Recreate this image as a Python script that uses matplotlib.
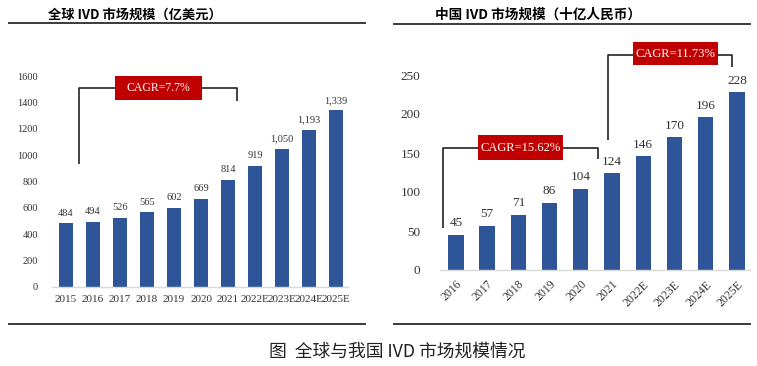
import matplotlib
matplotlib.use("Agg")
import matplotlib.pyplot as plt
from matplotlib.patches import Rectangle

# ---- data ------------------------------------------------------------------
global_years = ["2015", "2016", "2017", "2018", "2019", "2020", "2021",
                "2022E", "2023E", "2024E", "2025E"]
global_vals = [484, 494, 526, 565, 602, 669, 814, 919, 1050, 1193, 1339]
global_labels = ["484", "494", "526", "565", "602", "669", "814", "919",
                 "1,050", "1,193", "1,339"]
global_ticks = [0, 200, 400, 600, 800, 1000, 1200, 1400, 1600]

china_years = ["2016", "2017", "2018", "2019", "2020", "2021",
               "2022E", "2023E", "2024E", "2025E"]
china_vals = [45, 57, 71, 86, 104, 124, 146, 170, 196, 228]
china_ticks = [0, 50, 100, 150, 200, 250]

BLUE = "#2E5597"
RED = "#C00000"
SERIF = "Liberation Serif"
CJK = ["Noto Sans CJK SC", "DejaVu Sans"]

W, H = 757, 366
fig = plt.figure(figsize=(W / 100, H / 100), dpi=100, facecolor="white")


def px_axes(x0, x1, y_top, y_bot):
    """axes placed by pixel box (y measured from the top)"""
    return fig.add_axes([x0 / W, 1 - y_bot / H, (x1 - x0) / W, (y_bot - y_top) / H])


def hline(x0, x1, y, lw=1.4, color="#3a3a3a"):
    fig.add_artist(plt.Line2D([x0 / W, x1 / W], [1 - y / H, 1 - y / H],
                              color=color, lw=lw, transform=fig.transFigure))


def style(ax, ticks, size):
    for s in ["top", "right", "left"]:
        ax.spines[s].set_visible(False)
    ax.spines["bottom"].set_color("#d9d9d9")
    ax.spines["bottom"].set_linewidth(1.0)
    ax.set_yticks(ticks)
    ax.tick_params(length=0)
    for t in ax.get_yticklabels():
        t.set_fontfamily(SERIF)
        t.set_fontsize(size)
        t.set_color("#333333")


def bracket(ax, xl, yl_bot, xr, yr_bot, y, box_x0, box_x1, box_y0, box_y1, text, fs):
    k = dict(color="#222222", lw=1.2, clip_on=False, solid_capstyle="butt")
    ax.plot([xl, xl, box_x0], [yl_bot, y, y], **k)
    ax.plot([box_x1, xr, xr], [y, y, yr_bot], **k)
    ax.add_patch(Rectangle((box_x0, box_y0), box_x1 - box_x0, box_y1 - box_y0,
                           facecolor=RED, edgecolor="none", clip_on=False, zorder=3))
    ax.text((box_x0 + box_x1) / 2, (box_y0 + box_y1) / 2, text, color="white",
            fontfamily=SERIF, fontsize=fs, ha="center", va="center", zorder=4)


# ---- left: global market ---------------------------------------------------
ax1 = px_axes(52, 348, 76, 287)
x1 = range(len(global_vals))
ax1.bar(x1, global_vals, width=0.5, color=BLUE)
ax1.set_xlim(-0.52, 10.44)
ax1.set_ylim(0, 1600)
style(ax1, global_ticks, 7.5)
ax1.set_xticks(list(x1))
ax1.set_xticklabels(global_years, fontfamily=SERIF, fontsize=8, color="#333333")
ax1.tick_params(axis="x", pad=6)
ax1.tick_params(axis="y", pad=10)
for i, (v, lab) in enumerate(zip(global_vals, global_labels)):
    ax1.annotate(lab, (i, v), xytext=(0, 4), textcoords="offset points",
                 ha="center", va="bottom", fontfamily=SERIF, fontsize=7.5,
                 color="#333333")
bracket(ax1, 0.48, 933, 6.33, 1410, 1509, 1.81, 5.04, 1418, 1600,
        "CAGR=7.7%", 8.5)

# ---- right: China market ---------------------------------------------------
ax2 = px_axes(440, 750, 75, 270)
x2 = range(len(china_vals))
ax2.bar(x2, china_vals, width=0.49, color=BLUE)
ax2.set_xlim(-0.51, 9.42)
ax2.set_ylim(0, 250)
style(ax2, china_ticks, 9.5)
ax2.set_xticks(list(x2))
ax2.set_xticklabels(china_years, fontfamily=SERIF, fontsize=8.5, color="#333333",
                    rotation=45, ha="right", rotation_mode="anchor")
ax2.tick_params(axis="x", pad=6)
ax2.tick_params(axis="y", pad=14)
for i, v in enumerate(china_vals):
    ax2.annotate(str(v), (i, v), xytext=(0, 4), textcoords="offset points",
                 ha="center", va="bottom", fontfamily=SERIF, fontsize=9.5,
                 color="#333333")
bracket(ax2, -0.42, 54, 4.55, 142, 156, 0.71, 3.43, 141, 173,
        "CAGR=15.62%", 9)
bracket(ax2, 4.87, 167, 8.85, 260, 276, 5.67, 8.40, 263, 292,
        "CAGR=11.73%", 9)

# ---- titles, rules, caption ------------------------------------------------
fig.text(48 / W, 1 - 15 / H, "全球 IVD 市场规模（亿美元）", family=CJK,
         fontsize=9.5, fontweight="bold", va="center", ha="left")
fig.text(435 / W, 1 - 15 / H, "中国 IVD 市场规模（十亿人民币）", family=CJK,
         fontsize=9.8, fontweight="bold", va="center", ha="left")
hline(9, 365, 23)
hline(394, 750, 24)
hline(9, 365, 324)
hline(394, 750, 324)
fig.text(397 / W, 1 - 352 / H, "图  全球与我国 IVD 市场规模情况", family=CJK,
         fontsize=12.8, va="center", ha="center", color="#222222")

fig.savefig("out.png", dpi=100, facecolor="white")
